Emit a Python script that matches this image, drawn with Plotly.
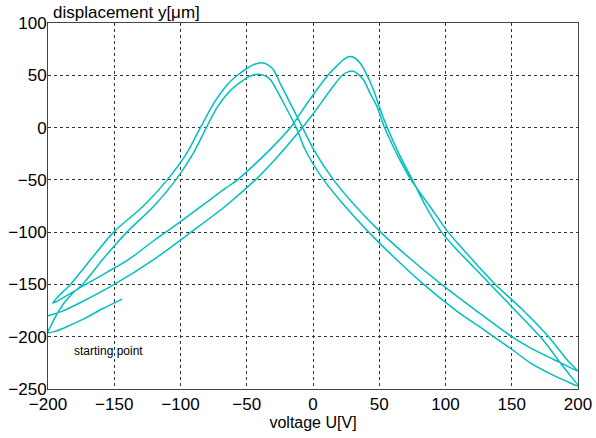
import plotly.graph_objects as go

# voltage U [V] and displacement y [um], branch by branch
start_u = [-144, -160, -173, -185, -195, -200]
start_y = [-164, -174, -183, -190, -195, -196]

# 1st increasing sweep: -200 -> +200 (lower left peak)
up1_u = [-198, -194, -188, -181, -174, -158, -140.5, -120, -103.5, -90.5, -80.5, -72, -62, -53, -47, -41,
         -36, -32, -22, -12, -6, 8, 24, 42, 62, 83.5, 108, 132, 150, 164, 180, 192, 200]
up1_y = [-190, -180, -168, -158, -150, -125, -100, -75, -50, -25, 0, 20, 36, 45, 49.5, 51,
         49.5, 45.6, 23, -2, -21, -50, -75, -100, -125, -150, -175, -196, -212, -225, -236, -243, -247]

# 1st decreasing sweep: +200 -> -200 (upper right peak)
down1_u = [194, 186, 178, 171.5, 152, 133.8, 121, 108.7, 97, 85, 75, 66, 56, 50.8, 45.7, 40, 35.7, 31, 28,
           24, 18, 10.6, -4.5, -17, -30, -43, -57, -66, -83, -100, -120, -139, -155, -171.6, -185, -196.5]
down1_y = [-237, -224, -210, -200, -174, -150, -133, -117, -100, -75, -50, -28, 0, 17, 36, 52, 61.5, 67, 68,
           66, 59, 49, 23, 0, -18, -34, -50, -58, -74, -90, -108, -126, -138, -150, -160, -168]

# 2nd increasing sweep (upper left peak)
up2_u = [-192, -183, -167, -150.5, -128, -110, -95.5, -85, -74, -64, -57, -50, -44, -39, -34, -29.7,
         -24.7, -14.6, -4.5, 0.5, 15.5, 32, 51, 73, 97, 123, 150, 164, 182, 195, 200]
up2_y = [-161, -150, -125, -100, -75, -50, -25, 0, 25, 42, 50, 56.5, 60.5, 62, 60, 55,
         42, 17, -8.6, -21, -50, -75, -100, -125, -150, -175, -200, -210.7, -222, -230, -233]

# 2nd decreasing sweep (lower right peak)
down2_u = [193, 186, 177.8, 158, 137.6, 125, 113.7, 102, 88, 74, 64, 54, 48.3, 43, 38.2, 33, 30, 26, 22,
           15, 0, -8, -20, -32, -43.5, -66, -92, -120, -150, -175, -190, -200]
down2_y = [-224, -213, -200, -174, -150, -133, -117, -100, -75, -50, -27, 0, 20, 33, 45.5, 52, 54, 53, 50,
           39, 13, 0, -18, -35, -50, -75, -100, -126, -150, -167, -176, -180]

u_ticks = [-200, -150, -100, -50, 0, 50, 100, 150, 200]
y_ticks = [-250, -200, -150, -100, -50, 0, 50, 100]

u = start_u + up1_u + down1_u + up2_u + down2_u
y = start_y + up1_y + down1_y + up2_y + down2_y

FONT = "Liberation Sans, Arial, sans-serif"

fig = go.Figure()
fig.add_trace(go.Scatter(
    x=u, y=y, mode="lines", showlegend=False, hoverinfo="skip",
    line=dict(color="rgb(0,191,191)", width=1.5, shape="spline", smoothing=0.8),
))

axis_style = dict(
    showgrid=True, gridcolor="#333333", gridwidth=1, griddash="dot",
    showline=True, mirror=True, linecolor="#444444", linewidth=1,
    zeroline=False, ticks="", automargin=False,
    tickfont=dict(family=FONT, size=17, color="black"),
)

fig.update_xaxes(range=[-200, 200], tickvals=u_ticks,
                 title=dict(text="voltage U[V]", font=dict(family=FONT, size=16, color="black"), standoff=1),
                 **axis_style)
fig.update_yaxes(range=[-250, 100], tickvals=y_ticks, ticklabelstandoff=-3, **axis_style)

fig.add_annotation(text="displacement y[μm]", xref="paper", yref="paper", x=0, y=1,
                   xanchor="left", yanchor="bottom", xshift=3, yshift=-1, showarrow=False,
                   font=dict(family=FONT, size=17, color="black"))
fig.add_annotation(text="starting point", x=-182, y=-214, xanchor="left", showarrow=False,
                   font=dict(family=FONT, size=12, color="black"))

fig.update_layout(
    width=596, height=438,
    margin=dict(l=48, r=18, t=23, b=49),
    plot_bgcolor="white", paper_bgcolor="white",
)

# drop the default 8px page margin so the figure sits at the window corner
fig.write_html("out.html", config={"displayModeBar": False},
               post_script="document.body.style.margin = '0';")
